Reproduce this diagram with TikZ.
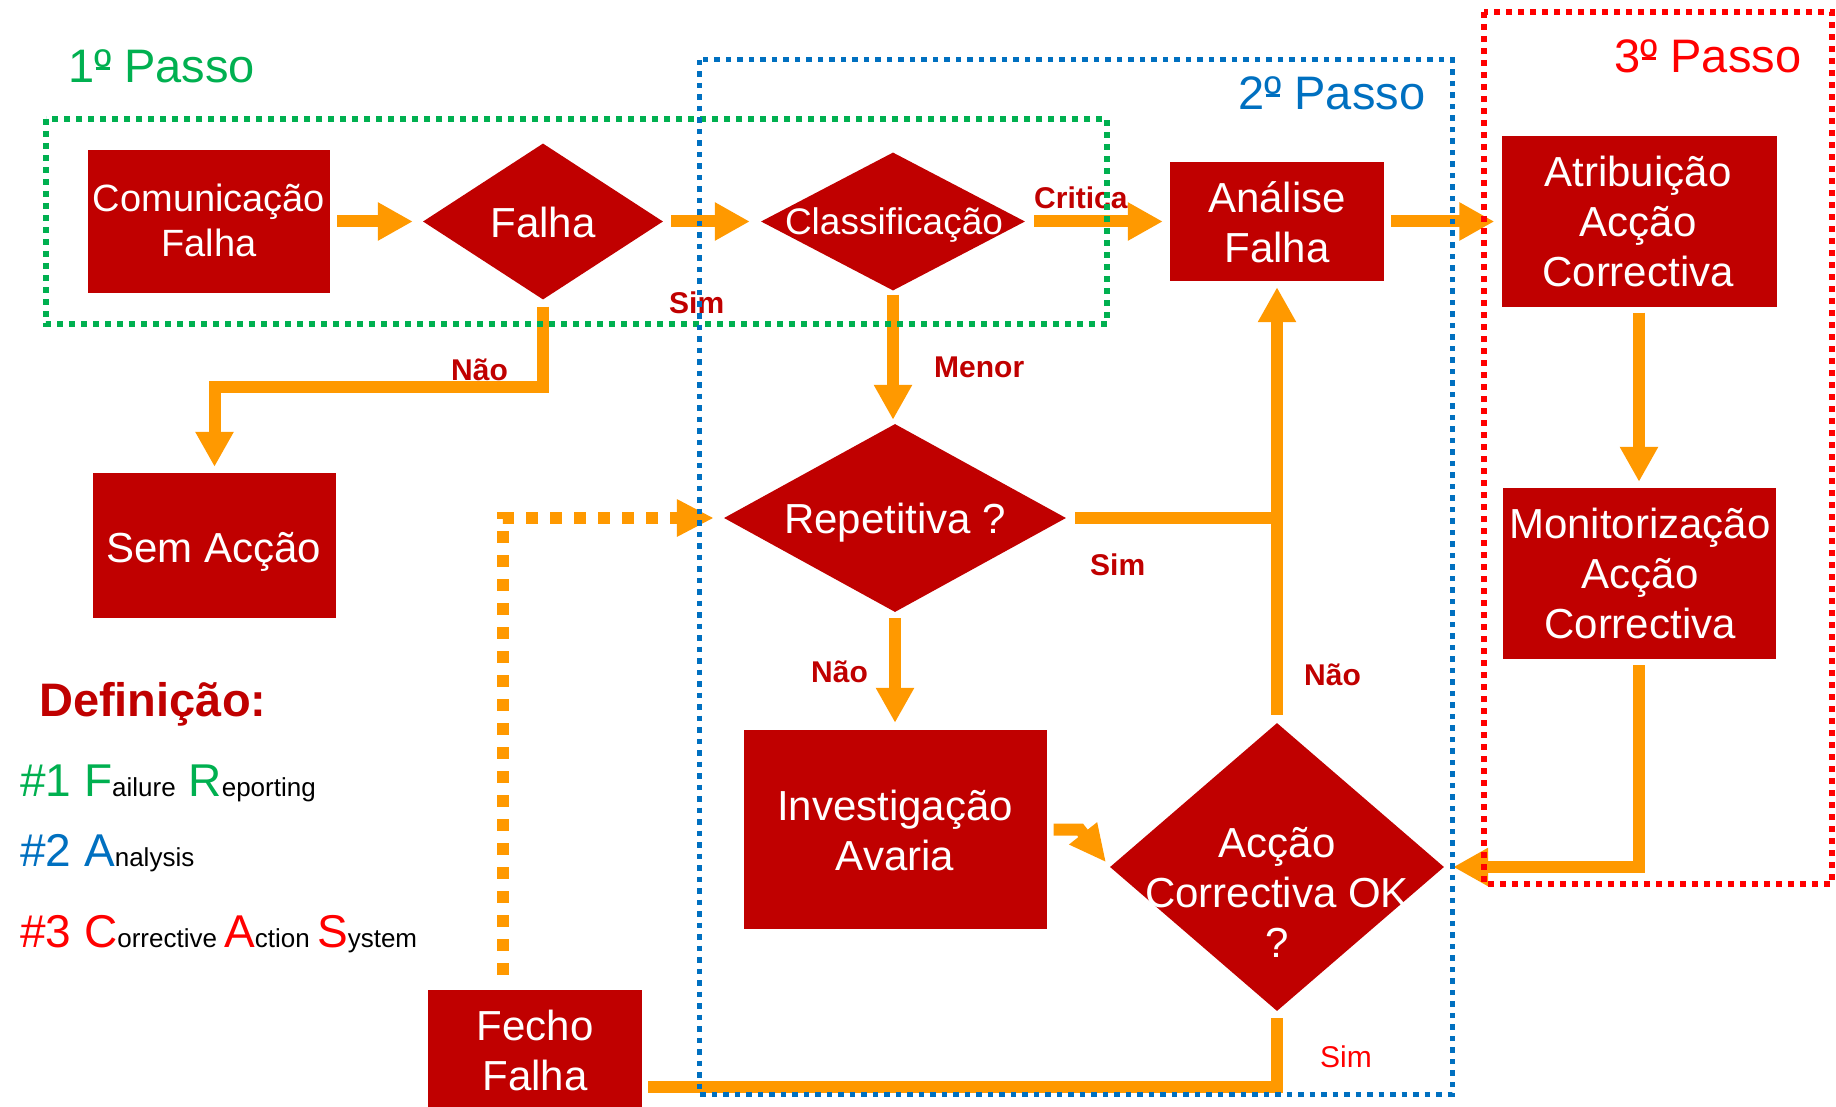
\documentclass[tikz,border=0pt]{standalone}
\usepackage{fontspec}
\setmainfont{Liberation Sans}
\usetikzlibrary{shapes.geometric,arrows.meta}

\definecolor{boxred}{HTML}{C00000}
\definecolor{flowor}{HTML}{FF9900}
\definecolor{cgreen}{HTML}{00B050}
\definecolor{cblue}{HTML}{0070C0}
\definecolor{cred}{HTML}{FF0000}

% centred stacks of lines whose baseline is the first line
\newcommand\stacktwo[2]{\vtop{\hbox to 0pt{\hss#1\hss}\hbox to 0pt{\hss#2\hss}}}
\newcommand\stackthree[3]{\vtop{\hbox to 0pt{\hss#1\hss}\hbox to 0pt{\hss#2\hss}\hbox to 0pt{\hss#3\hss}}}
% legend: large coloured initials, small black remainder
\newcommand\legbig[2]{{\fontsize{46}{50}\selectfont\color{#1}#2}}
\newcommand\legsmall[1]{{\fontsize{26}{30}\selectfont\color{black}#1}}
% masculine ordinal with its underbar
\newcommand\ordbar{\makebox[0pt][l]{\hspace{0.03em}\rule[0.27em]{0.3em}{0.06em}}º}

\begin{document}
\begin{tikzpicture}[x=1pt,y=-1pt,
  box/.style={rectangle, fill=boxred, draw=none, inner sep=0pt},
  dia/.style={diamond, fill=boxred, draw=none, inner sep=0pt},
  txt/.style={text=white, inner sep=0pt, anchor=base, font=\fontsize{42}{50}\selectfont},
  lbl/.style={text=boxred, inner sep=0pt, anchor=base west, font=\fontsize{30}{36}\selectfont\bfseries},
  title/.style={inner sep=0pt, anchor=base west, font=\fontsize{47}{56}\selectfont},
  flowline/.style={draw=flowor, line width=12pt},
  flow/.style={flowline, -{Triangle[width=36pt,length=35pt]}},
  frame/.style={line width=6pt, dash pattern=on 6pt off 6pt}
]
\useasboundingbox (0,0) rectangle (1836,1107);
\clip (0,0) rectangle (1836,1107);
\fill[white] (0,0) rectangle (1836,1107);

% ---------- process boxes ----------
\node[box, minimum width=242pt, minimum height=143pt] (com) at (209,221.5) {};
\node[dia, minimum width=240pt, minimum height=156pt] (fal) at (543,221.5) {};
\node[dia, minimum width=264pt, minimum height=138pt] (cls) at (893,221.5) {};
\node[box, minimum width=214pt, minimum height=119pt] (ana) at (1277,221.5) {};
\node[box, minimum width=275pt, minimum height=170pt] (atr) at (1639,221.5) {};
\node[box, minimum width=273pt, minimum height=171pt] (mon) at (1639,573.5) {};
\node[box, minimum width=243pt, minimum height=145pt] (sem) at (214.5,545.5) {};
\node[dia, minimum width=342pt, minimum height=188pt] (rep) at (895,518) {};
\node[box, minimum width=303pt, minimum height=199pt] (inv) at (895,829.5) {};
\node[dia, minimum width=334pt, minimum height=288pt] (acc) at (1277,867) {};
\node[box, minimum width=214pt, minimum height=140pt] (fec) at (535,1060) {};

% ---------- box texts ----------
\node[txt, font=\fontsize{38}{45}\selectfont] (com-t) at (209,212) {\stacktwo{Comunicação}{Falha}};
\node[txt] (fal-t) at (543,238) {Falha};
\node[txt, font=\fontsize{37}{44}\selectfont] (cls-t) at (894,235) {Classificação};
\node[txt] (ana-t) at (1277,213) {\stacktwo{Análise}{Falha}};
\node[txt] (atr-t) at (1638,187) {\stackthree{Atribuição}{Acção}{Correctiva}};
\node[txt] (mon-t) at (1640,538) {\stackthree{Monitorização}{Acção}{Correctiva}};
\node[txt] (sem-t) at (214,562) {Sem Acção};
\node[txt] (rep-t) at (895,533) {Repetitiva ?};
\node[txt] (inv-t) at (895,820) {\stacktwo{Investigação}{Avaria}};
\node[txt] (acc-t) at (1277,857) {\stackthree{Acção}{Correctiva OK}{?}};
\node[txt] (fec-t) at (535,1040) {\stacktwo{Fecho}{Falha}};

% ---------- connectors ----------
\coordinate (nobend) at (543,387);
\coordinate (kink) at (1080,829.5);
\draw[flow, shorten <=7pt, shorten >=10pt] (com.east) -- (fal.west);
\draw[flow, shorten <=8pt, shorten >=11pt] (fal.east) -- (cls.west);
\draw[flow, shorten <=9pt, shorten >=7pt] (cls.east) -- (ana.west);
\draw[flow, shorten <=7pt, shorten >=7pt] (ana.east) -- (atr.west);
\draw[flow, shorten <=6pt, shorten >=6pt] (atr.south) -- (mon.north);
\draw[flow, shorten <=6pt, shorten >=9pt] (mon.south) |- (acc.east);
\draw[flow, shorten <=7pt, shorten >=6pt] (fal.south) -- (nobend) -| (sem.north);
\draw[flow, shorten <=4pt, shorten >=4pt] (cls.south) -- (cls.south |- rep.north);
\draw[flow, shorten <=9pt, shorten >=6pt] (rep.east) -| (ana.south);
\draw[flowline, shorten <=8pt] (acc.north) -- (acc.north |- rep.east);
\draw[flow, shorten <=6pt, shorten >=7pt] (rep.south) -- (inv.north);
\draw[flowline, -{Triangle[width=33pt,length=37pt]}, shorten <=7pt, shorten >=6pt] (inv.east) -- (kink) -- (acc.west);
\draw[flowline, shorten <=7pt, shorten >=6pt] (acc.south) |- ([yshift=-27pt]fec.east);
\draw[flowline, dash pattern=on 12pt off 12pt, -{Triangle[width=35pt,length=37pt]},
      shorten <=15pt, shorten >=10pt] ([xshift=-32pt]fec.north) |- (rep.west);

% ---------- branch labels ----------
\node[lbl] (sim1) at (669,313) {Sim};
\node[lbl] (nao1) at (451,380) {Não};
\node[lbl] (menor) at (934,377) {Menor};
\node[lbl] (crit) at (1034,209) {Critica};
\node[lbl] (sim2) at (1090,575) {Sim};
\node[lbl] (nao2) at (811,682) {Não};
\node[lbl] (nao3) at (1304,685) {Não};
\node[lbl, text=cred, font=\fontsize{30}{36}\selectfont] (sim3) at (1320,1067) {Sim};

% ---------- step frames ----------
\draw[frame, cgreen] (46,119) rectangle (1107,324);
\draw[frame, cblue, line width=5pt, dash pattern=on 5.5pt off 6pt] (699,60) rectangle (1452,1094);
\draw[frame, cred] (1484,12) rectangle (1832,884);

\node[title, text=cgreen] (step1) at (68,83) {1\ordbar{} Passo};
\node[title, text=cblue] (step2) at (1238,110) {2\ordbar{} Passo};
\node[title, text=cred] (step3) at (1614,73) {3\ordbar{} Passo};

% ---------- definitions ----------
\node[anchor=base west, inner sep=0pt, text=boxred, font=\fontsize{47}{56}\selectfont\bfseries] (defn) at (39,716) {Definição:};
\node[anchor=base west, inner sep=0pt] (def1) at (20,796)
  {\legbig{cgreen}{\#1 F}\legsmall{ailure}\legbig{cgreen}{\ R}\legsmall{eporting}};
\node[anchor=base west, inner sep=0pt] (def2) at (20,866)
  {\legbig{cblue}{\#2 A}\legsmall{nalysis}};
\node[anchor=base west, inner sep=0pt] (def3) at (20,947)
  {\legbig{cred}{\#3 C}\legsmall{orrective }\legbig{cred}{A}\legsmall{ction }\legbig{cred}{S}\legsmall{ystem}};
\end{tikzpicture}
\end{document}
